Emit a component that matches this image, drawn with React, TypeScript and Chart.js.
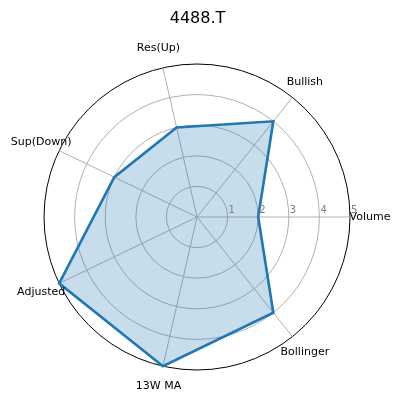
import React, { useEffect, useRef } from 'react';
import { Chart, registerables } from 'chart.js';

Chart.register(...registerables);

// clockwise from east (matplotlib runs counter-clockwise, so order is reversed)
const axisLabels = ['Volume', 'Bollinger', '13W MA', 'Adjusted', 'Sup(Down)', 'Res(Up)', 'Bullish'];
const scores = [2, 4, 5, 5, 3, 3, 4];
const tickValues = [1, 2, 3, 4, 5];

const FONT = "'DejaVu Sans', sans-serif";

const radarText = {
  id: 'radarText',
  afterDraw(chart: any) {
    const scale = chart.scales.r;
    const ctx = chart.ctx;
    ctx.save();
    // axis labels centred just outside the outer ring
    ctx.font = `11px ${FONT}`;
    ctx.fillStyle = '#000';
    ctx.textAlign = 'center';
    ctx.textBaseline = 'middle';
    axisLabels.forEach((label, i) => {
      const p = scale.getPointPosition(i, scale.drawingArea + 20);
      ctx.fillText(label, p.x, p.y);
    });
    // radial tick labels along the first axis
    ctx.font = `10px ${FONT}`;
    ctx.fillStyle = '#808080';
    ctx.textAlign = 'left';
    ctx.textBaseline = 'bottom';
    tickValues.forEach((v) => {
      const p = scale.getPointPositionForValue(0, v);
      ctx.fillText(String(v), p.x + 1, p.y - 2);
    });
    ctx.restore();
  },
};

const App = () => {
  const chartRef = useRef<HTMLCanvasElement>(null);

  useEffect(() => {
    const chart = new Chart(chartRef.current as HTMLCanvasElement, {
      type: 'radar',
      data: {
        labels: axisLabels,
        datasets: [
          {
            data: scores,
            borderColor: '#1f77b4',
            backgroundColor: 'rgba(31,119,180,0.25)',
            borderWidth: 2.6,
            pointRadius: 0,
            fill: true,
            tension: 0,
          },
        ],
      },
      options: {
        animation: false,
        responsive: true,
        maintainAspectRatio: false,
        layout: { padding: { left: 44, right: 50, top: 0, bottom: 30 } },
        scales: {
          r: {
            min: 0,
            max: 5,
            startAngle: 90,
            ticks: { display: false, stepSize: 1 },
            pointLabels: { display: false },
            grid: {
              circular: true,
              color: (c: any) => (c.tick && c.tick.value === 5 ? '#000' : '#b0b0b0'),
              lineWidth: 1,
            },
            angleLines: { color: '#b0b0b0', lineWidth: 1 },
          },
        },
        plugins: {
          legend: { display: false },
          tooltip: { enabled: false },
          title: {
            display: true,
            text: '4488.T',
            color: '#000',
            font: { family: FONT, size: 16, weight: 'normal' },
            padding: { top: 9, bottom: 36 },
          },
        },
      },
      plugins: [radarText],
    });

    return () => chart.destroy();
  }, []);

  return (
    <div style={{ position: 'fixed', left: 0, top: 0, width: 401, height: 401, background: '#fff' }}>
      <canvas ref={chartRef} />
    </div>
  );
};

export default App;
